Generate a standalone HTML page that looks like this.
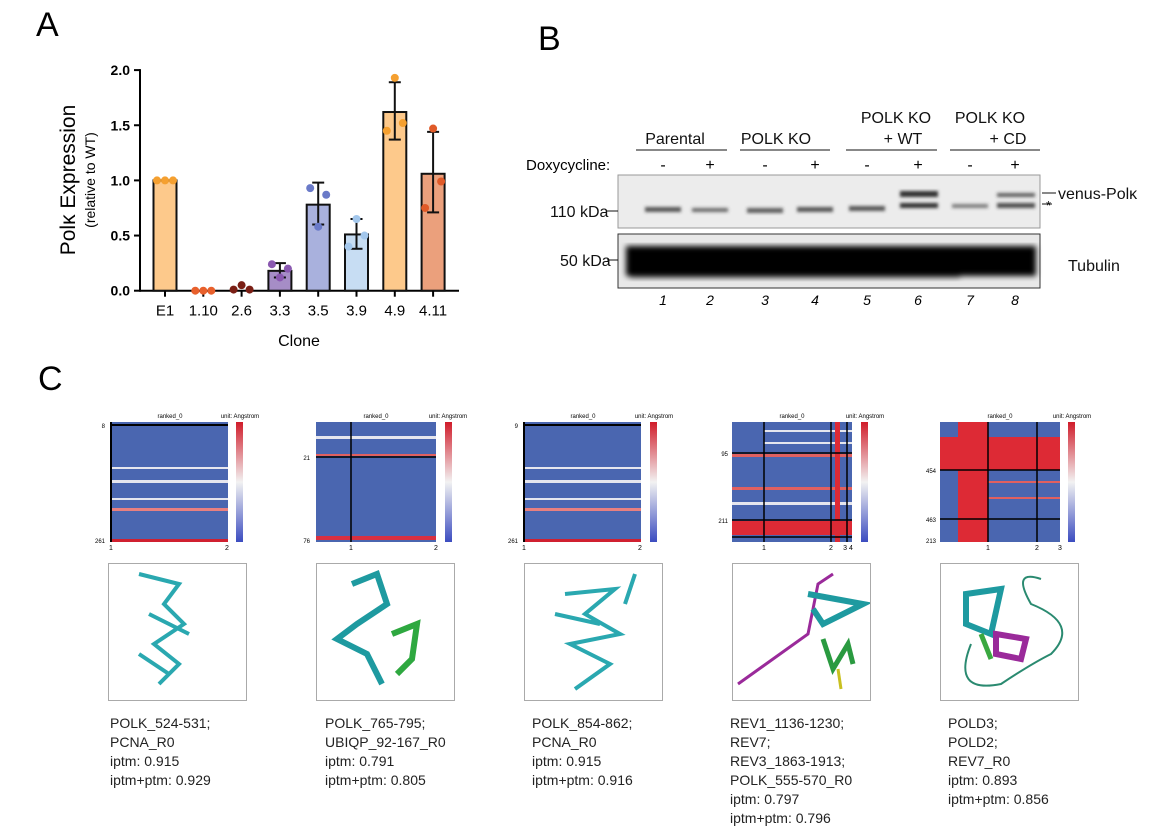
<!DOCTYPE html>
<html><head><meta charset="utf-8">
<style>
body{margin:0;background:#fff;width:1175px;height:835px;overflow:hidden;position:relative;font-family:"Liberation Sans",sans-serif;}
.abs{position:absolute;}
.lbl{position:absolute;font-size:14px;line-height:19px;color:#222;}
.box{position:absolute;border:1px solid #aaa;width:137px;height:136px;background:#fff;}
</style></head>
<body>
<div class="abs" style="left:36px;top:6px;font-size:34px;">A</div>
<div class="abs" style="left:538px;top:20px;font-size:34px;">B</div>
<div class="abs" style="left:38px;top:360px;font-size:34px;">C</div>

<svg class="abs" style="left:0;top:0" width="520" height="350" id="chartA"></svg>

<!-- Panel B blot -->
<svg class="abs" style="left:500px;top:90px" width="675" height="230" font-family="Liberation Sans, sans-serif">
  <g font-size="16" fill="#111">
    <text x="175" y="54" text-anchor="middle">Parental</text>
    <text x="276" y="54" text-anchor="middle">POLK KO</text>
    <text x="396" y="33" text-anchor="middle">POLK KO</text>
    <text x="403" y="54" text-anchor="middle">+ WT</text>
    <text x="490" y="33" text-anchor="middle">POLK KO</text>
    <text x="508" y="54" text-anchor="middle">+ CD</text>
  </g>
  <g stroke="#111" stroke-width="1">
    <line x1="136" y1="60" x2="227" y2="60"/><line x1="240" y1="60" x2="330" y2="60"/>
    <line x1="346" y1="60" x2="437" y2="60"/><line x1="450" y1="60" x2="540" y2="60"/>
  </g>
  <text x="26" y="80" font-size="15">Doxycycline:</text>
  <g font-size="16" text-anchor="middle">
    <text x="163" y="80">-</text><text x="210" y="80">+</text><text x="265" y="80">-</text><text x="315" y="80">+</text>
    <text x="367" y="80">-</text><text x="418" y="80">+</text><text x="470" y="80">-</text><text x="515" y="80">+</text>
  </g>
  <defs>
    <filter id="blur1"><feGaussianBlur stdDeviation="1.5"/></filter>
    <filter id="blur2"><feGaussianBlur stdDeviation="3"/></filter>
  </defs>
  <rect x="118" y="85" width="422" height="53" fill="#ececec" stroke="#999"/>
  <g filter="url(#blur1)" fill="#333">
    <rect x="145" y="117" width="36" height="5" opacity="0.8"/><rect x="192" y="118" width="36" height="4" opacity="0.7"/>
    <rect x="247" y="118" width="36" height="5" opacity="0.75"/><rect x="297" y="117" width="36" height="5" opacity="0.8"/>
    <rect x="349" y="116" width="36" height="5" opacity="0.8"/><rect x="400" y="113" width="38" height="5"/>
    <rect x="400" y="101" width="38" height="6"/><rect x="452" y="114" width="36" height="4" opacity="0.6"/>
    <rect x="497" y="113" width="38" height="5" opacity="0.85"/><rect x="497" y="103" width="38" height="4" opacity="0.75"/>
  </g>
  <rect x="118" y="144" width="422" height="54" fill="#e8e8e8" stroke="#333"/>
  <g filter="url(#blur2)" fill="#000">
    <rect x="126" y="156" width="410" height="30"/>
    <rect x="130" y="180" width="330" height="8" opacity="0.6"/>
  </g>
  <g font-size="16" fill="#111">
    <text x="50" y="127">110 kDa</text>
    <text x="60" y="176">50 kDa</text>
    <text x="558" y="109">venus-Polκ</text>
    <text x="546" y="120" font-size="13">*</text>
    <text x="568" y="181">Tubulin</text>
  </g>
  <g stroke="#111"><line x1="107" y1="121" x2="118" y2="121"/><line x1="107" y1="170" x2="118" y2="170"/>
  <line x1="542" y1="103" x2="556" y2="103"/><line x1="542" y1="114" x2="552" y2="114"/></g>
  <g font-size="14" font-style="italic" text-anchor="middle">
    <text x="163" y="215">1</text><text x="210" y="215">2</text><text x="265" y="215">3</text><text x="315" y="215">4</text>
    <text x="367" y="215">5</text><text x="418" y="215">6</text><text x="470" y="215">7</text><text x="515" y="215">8</text>
  </g>
</svg>

<!-- Panel C heatmaps -->
<svg class="abs" style="left:0;top:400px" width="1175" height="160" font-family="Liberation Sans, sans-serif">
  <defs>
    <linearGradient id="cb" x1="0" y1="1" x2="0" y2="0">
      <stop offset="0" stop-color="#3b4cc0"/><stop offset="0.5" stop-color="#f2f2f2"/><stop offset="1" stop-color="#d01c2a"/>
    </linearGradient>
  </defs>
  <g id="hm1">
    <rect x="111" y="22" width="117" height="120" fill="#4a66b0"/>
    <g fill="#e6e6ee"><rect x="111" y="67" width="117" height="2"/><rect x="111" y="80" width="117" height="3"/><rect x="111" y="98" width="117" height="2"/></g>
    <rect x="111" y="108" width="117" height="3" fill="#e88080"/><rect x="111" y="139" width="117" height="3" fill="#d02030"/>
    <line x1="111" y1="25" x2="228" y2="25" stroke="#000" stroke-width="2"/><line x1="111" y1="22" x2="111" y2="142" stroke="#000" stroke-width="2"/>
    <rect x="236" y="22" width="7" height="120" fill="url(#cb)"/>
    <text x="170" y="18" font-size="6" text-anchor="middle">ranked_0</text><text x="240" y="18" font-size="6" text-anchor="middle">unit: Angstrom</text>
    <text x="105" y="28" font-size="6" text-anchor="end">8</text><text x="105" y="143" font-size="6" text-anchor="end">261</text>
    <text x="111" y="150" font-size="7" text-anchor="middle">1</text><text x="227" y="150" font-size="7" text-anchor="middle">2</text>
  </g>
  <g>
    <rect x="316" y="22" width="120" height="120" fill="#4a66b0"/>
    <rect x="316" y="36" width="120" height="3" fill="#e6e6ee"/><rect x="316" y="54" width="120" height="2" fill="#e06060"/>
    <rect x="316" y="136" width="120" height="4" fill="#d83040"/>
    <line x1="316" y1="57" x2="436" y2="57" stroke="#000" stroke-width="1.5"/><line x1="351" y1="22" x2="351" y2="142" stroke="#000" stroke-width="1.5"/>
    <rect x="445" y="22" width="7" height="120" fill="url(#cb)"/>
    <text x="376" y="18" font-size="6" text-anchor="middle">ranked_0</text><text x="448" y="18" font-size="6" text-anchor="middle">unit: Angstrom</text>
    <text x="310" y="60" font-size="6" text-anchor="end">21</text><text x="310" y="143" font-size="6" text-anchor="end">76</text>
    <text x="351" y="150" font-size="7" text-anchor="middle">1</text><text x="436" y="150" font-size="7" text-anchor="middle">2</text>
  </g>
  <g>
    <rect x="524" y="22" width="117" height="120" fill="#4a66b0"/>
    <g fill="#e6e6ee"><rect x="524" y="67" width="117" height="2"/><rect x="524" y="80" width="117" height="3"/><rect x="524" y="98" width="117" height="2"/></g>
    <rect x="524" y="108" width="117" height="3" fill="#e88080"/><rect x="524" y="139" width="117" height="3" fill="#d02030"/>
    <line x1="524" y1="25" x2="641" y2="25" stroke="#000" stroke-width="2"/><line x1="524" y1="22" x2="524" y2="142" stroke="#000" stroke-width="2"/>
    <rect x="650" y="22" width="7" height="120" fill="url(#cb)"/>
    <text x="583" y="18" font-size="6" text-anchor="middle">ranked_0</text><text x="654" y="18" font-size="6" text-anchor="middle">unit: Angstrom</text>
    <text x="518" y="28" font-size="6" text-anchor="end">9</text><text x="518" y="143" font-size="6" text-anchor="end">261</text>
    <text x="524" y="150" font-size="7" text-anchor="middle">1</text><text x="640" y="150" font-size="7" text-anchor="middle">2</text>
  </g>
  <g>
    <rect x="732" y="22" width="120" height="120" fill="#4a66b0"/>
    <g fill="#e6e6ee"><rect x="764" y="30" width="88" height="2"/><rect x="764" y="42" width="88" height="2"/><rect x="732" y="102" width="120" height="3"/></g>
    <rect x="732" y="54" width="120" height="3" fill="#e06060"/><rect x="732" y="87" width="120" height="3" fill="#e06060"/>
    <rect x="732" y="121" width="120" height="14" fill="#dd2a35"/><rect x="835" y="22" width="5" height="120" fill="#dd2a35"/>
    <g stroke="#000" stroke-width="1.5"><line x1="732" y1="53" x2="852" y2="53"/><line x1="732" y1="120" x2="852" y2="120"/><line x1="732" y1="137" x2="852" y2="137"/>
    <line x1="764" y1="22" x2="764" y2="142"/><line x1="831" y1="22" x2="831" y2="142"/><line x1="847" y1="22" x2="847" y2="142"/></g>
    <rect x="861" y="22" width="7" height="120" fill="url(#cb)"/>
    <text x="792" y="18" font-size="6" text-anchor="middle">ranked_0</text><text x="865" y="18" font-size="6" text-anchor="middle">unit: Angstrom</text>
    <text x="728" y="56" font-size="6" text-anchor="end">95</text><text x="728" y="123" font-size="6" text-anchor="end">211</text>
    <text x="764" y="150" font-size="7" text-anchor="middle">1</text><text x="831" y="150" font-size="7" text-anchor="middle">2</text><text x="848" y="150" font-size="7" text-anchor="middle">3 4</text>
  </g>
  <g>
    <rect x="940" y="22" width="120" height="120" fill="#4a66b0"/>
    <rect x="940" y="37" width="120" height="33" fill="#dd2a35"/><rect x="958" y="22" width="30" height="120" fill="#dd2a35"/>
    <g fill="#e06060"><rect x="988" y="81" width="72" height="2"/><rect x="988" y="97" width="72" height="2"/></g>
    <g stroke="#000" stroke-width="1.5"><line x1="940" y1="70" x2="1060" y2="70"/><line x1="940" y1="119" x2="1060" y2="119"/>
    <line x1="988" y1="22" x2="988" y2="142"/><line x1="1037" y1="22" x2="1037" y2="142"/></g>
    <rect x="1068" y="22" width="7" height="120" fill="url(#cb)"/>
    <text x="1000" y="18" font-size="6" text-anchor="middle">ranked_0</text><text x="1072" y="18" font-size="6" text-anchor="middle">unit: Angstrom</text>
    <text x="936" y="73" font-size="6" text-anchor="end">454</text><text x="936" y="122" font-size="6" text-anchor="end">463</text><text x="936" y="143" font-size="6" text-anchor="end">213</text>
    <text x="988" y="150" font-size="7" text-anchor="middle">1</text><text x="1037" y="150" font-size="7" text-anchor="middle">2</text><text x="1060" y="150" font-size="7" text-anchor="middle">3</text>
  </g>
</svg>

<!-- structure boxes -->
<div class="box" style="left:108px;top:563px;"><svg width="137" height="136"><g fill="none" stroke="#2aa8b0" stroke-width="4"><path d="M30 10 L70 20 L55 40 L75 60 L45 80 L70 100 L50 120 M40 50 L80 70 M30 90 L60 110"/></g></svg></div>
<div class="box" style="left:316px;top:563px;"><svg width="137" height="136"><g fill="none" stroke-width="6"><path d="M35 20 L60 10 L70 40 L40 60 L20 75 L50 90 L65 120" stroke="#1e9aa0"/><path d="M75 70 L100 60 L95 95 L80 110" stroke="#2ea840"/></g></svg></div>
<div class="box" style="left:524px;top:563px;"><svg width="137" height="136"><g fill="none" stroke="#2aa8b0" stroke-width="4"><path d="M40 30 L90 25 L60 50 L95 70 L45 80 L85 100 L50 125 M30 50 L75 60 M110 10 L100 40"/></g></svg></div>
<div class="box" style="left:732px;top:563px;"><svg width="137" height="136"><g fill="none" stroke-width="3"><path d="M5 120 L40 95 L75 70 L85 20 L100 10" stroke="#9a2a9a"/><path d="M75 30 L130 40 L90 60 L80 45" stroke="#1e9aa0" stroke-width="6"/><path d="M90 75 L100 105 L115 80 L120 100" stroke="#2a9a40" stroke-width="5"/><path d="M105 105 L108 125" stroke="#c8c020"/></g></svg></div>
<div class="box" style="left:940px;top:563px;"><svg width="137" height="136"><g fill="none" stroke-width="2"><path d="M25 30 L60 25 L50 70 L25 60 Z" stroke="#1e9aa0" stroke-width="6"/><path d="M30 80 Q10 130 60 120 Q90 100 110 90 Q140 60 90 40 Q70 5 100 15" stroke="#2a8a70"/><path d="M55 70 L85 75 L80 95 L55 90 Z" stroke="#9a2a9a" stroke-width="6"/><path d="M40 70 L50 95" stroke="#3aa840" stroke-width="5"/></g></svg></div>

<div class="lbl" style="left:110px;top:714px;">POLK_524-531;<br>PCNA_R0<br>iptm: 0.915<br>iptm+ptm: 0.929</div>
<div class="lbl" style="left:325px;top:714px;">POLK_765-795;<br>UBIQP_92-167_R0<br>iptm: 0.791<br>iptm+ptm: 0.805</div>
<div class="lbl" style="left:532px;top:714px;">POLK_854-862;<br>PCNA_R0<br>iptm: 0.915<br>iptm+ptm: 0.916</div>
<div class="lbl" style="left:730px;top:714px;">REV1_1136-1230;<br>REV7;<br>REV3_1863-1913;<br>POLK_555-570_R0<br>iptm: 0.797<br>iptm+ptm: 0.796</div>
<div class="lbl" style="left:948px;top:714px;">POLD3;<br>POLD2;<br>REV7_R0<br>iptm: 0.893<br>iptm+ptm: 0.856</div>

<script>
const clones = ["E1","1.10","2.6","3.3","3.5","3.9","4.9","4.11"];
const means = [1.0,0.0,0.02,0.18,0.78,0.51,1.62,1.06];
const errLow = [1.0,0.0,0.02,0.12,0.60,0.38,1.37,0.71];
const errHigh = [1.0,0.0,0.02,0.25,0.98,0.65,1.89,1.44];
const points = [[1,1,1],[0,0,0],[0.01,0.05,0.01],[0.24,0.12,0.2],[0.93,0.58,0.87],[0.40,0.65,0.5],[1.45,1.93,1.52],[0.75,1.47,0.99]];
const yTicks = ["0.0","0.5","1.0","1.5","2.0"];
const fills = ["#fdc98b","#fdc98b","#fdc98b","#a68dc6","#a9b1dd","#c7ddf3","#fdc98b","#eba07c"];
const dotCols = ["#f5a030","#e8602c","#7a1e14","#8a58b0","#6a7ac8","#a3c7ec","#f5a030","#e05a28"];
const svg = document.getElementById('chartA');
const NS = "http://www.w3.org/2000/svg";
const y0 = 290.7, ppu = 110.3, x0 = 165, dx = 38.3;
const ys = v => y0 - v*ppu;
const xs = i => x0 + i*dx;
function mk(tag, attrs){const e=document.createElementNS(NS,tag);for(const k in attrs)e.setAttribute(k,attrs[k]);svg.appendChild(e);return e;}
mk('line',{x1:140,y1:y0,x2:459,y2:y0,stroke:'#000','stroke-width':2});
mk('line',{x1:140,y1:ys(2)-1,x2:140,y2:y0+1,stroke:'#000','stroke-width':2});
yTicks.forEach((t,i)=>{
  const v=parseFloat(t);
  const l=mk('line',{x1:134,y1:ys(v),x2:140,y2:ys(v),stroke:'#000','stroke-width':2});
  const tx=mk('text',{x:130,y:ys(v)+5,'text-anchor':'end','font-size':14,'font-weight':'bold','font-family':'Liberation Sans, sans-serif'});
  tx.textContent=t;
  
  
});
clones.forEach((c,i)=>{
  const x=xs(i);
  const h=Math.max(means[i]*ppu,0);
  if(means[i]>0.03){
    const b=mk('rect',{x:x-11.5,y:ys(means[i]),width:23,height:h,fill:fills[i],stroke:'#111','stroke-width':2});
    
    
  }
  mk('line',{x1:x,y1:y0,x2:x,y2:y0+6,stroke:'#000','stroke-width':2});
  if(errHigh[i]-errLow[i]>0.01){
    mk('line',{x1:x,y1:ys(errLow[i]),x2:x,y2:ys(errHigh[i]),stroke:'#111','stroke-width':2});
    mk('line',{x1:x-6,y1:ys(errLow[i]),x2:x+6,y2:ys(errLow[i]),stroke:'#111','stroke-width':2});
    mk('line',{x1:x-6,y1:ys(errHigh[i]),x2:x+6,y2:ys(errHigh[i]),stroke:'#111','stroke-width':2});
  }
  points[i].forEach((p,j)=>{
    const d=mk('circle',{cx:x+(j-1)*8,cy:ys(p),r:4,fill:dotCols[i]});
    
    
  });
  const t=mk('text',{x:x,y:y0+25,'text-anchor':'middle','font-size':15,'font-family':'Liberation Sans, sans-serif'});
  t.textContent=c;
  
  
});
const xt=mk('text',{x:299,y:346,'text-anchor':'middle','font-size':16,'font-family':'Liberation Sans, sans-serif'});
xt.textContent='Clone';


const yt=mk('text',{x:0,y:0,'text-anchor':'middle','font-size':21,'font-family':'Liberation Sans, sans-serif',transform:'translate(75,180) rotate(-90)'});
yt.textContent='Polκ Expression';


const yt2=mk('text',{x:0,y:0,'text-anchor':'middle','font-size':14,'font-family':'Liberation Sans, sans-serif',transform:'translate(95,180) rotate(-90)'});
yt2.textContent='(relative to WT)';


</script>
</body></html>
